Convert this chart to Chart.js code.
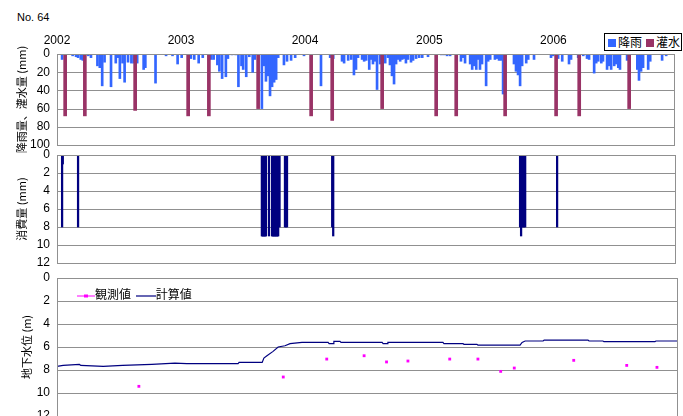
<!DOCTYPE html>
<html lang="ja">
<head>
<meta charset="utf-8">
<script src="https://cdn.jsdelivr.net/npm/chart.js@4.4.1/dist/chart.umd.min.js"></script>
<style>
  html, body { margin: 0; padding: 0; width: 683px; height: 416px; overflow: hidden; background: #fff;
    font-family: "Liberation Sans", "Noto Sans CJK JP", sans-serif; color: #000; }
  .panel { position: absolute; left: 0; width: 683px; }
  #no { position: absolute; left: 17px; top: 11px; font-size: 11px; }
  #legend-top { position: absolute; left: 604px; top: 33px; width: 76px; height: 16px; border: 1px solid #000;
    font-family: "Noto Sans CJK JP", sans-serif; font-size: 12px; line-height: 16px; white-space: nowrap; background: #fff; }
  #legend-top span.sw { display: inline-block; width: 8px; height: 8px; margin: 0 2px 0 3px; }
  #legend-bottom { position: absolute; left: 77px; top: 286px; font-family: "Noto Sans CJK JP", sans-serif;
    font-size: 12px; line-height: 16px; white-space: nowrap; }
  #legend-bottom svg { vertical-align: middle; }
</style>
</head>
<body>
<div id="no">No. 64</div>
<div class="panel" style="top:0;height:160px"><canvas id="rainChart" width="683" height="160"></canvas></div>
<div class="panel" style="top:140px;height:140px"><canvas id="consChart" width="683" height="140"></canvas></div>
<div class="panel" style="top:262px;height:180px"><canvas id="levelChart" width="683" height="180"></canvas></div>
<div id="legend-top"><span class="sw" style="background:#3366ff"></span>降雨<span class="sw" style="background:#993366;margin-left:4px"></span>灌水</div>
<div id="legend-bottom">
  <svg width="18" height="8"><line x1="0" y1="4" x2="18" y2="4" stroke="#ff00ff" stroke-width="1"/><rect x="7" y="2.5" width="4" height="3" fill="#ff00ff"/></svg>観測値
  <svg width="20" height="8" style="margin-left:2px"><line x1="0" y1="4" x2="20" y2="4" stroke="#000080" stroke-width="1.2"/></svg>計算値
</div>
<script>
// x axis = days since 2002-01-01
const yearDays = [0, 365, 730, 1096, 1461];
const yearLabels = ['2002', '2003', '2004', '2005', '2006'];

// rainfall (mm)
const rainDay = [15, 46, 56, 62, 70, 76, 92, 100, 119, 126, 133, 140, 159, 173, 180, 185, 193, 199, 209, 219,
  226, 236, 255, 260, 290, 321, 340, 355, 367, 394, 404, 417, 429, 454, 461, 472, 478, 486, 497, 503,
  515, 526, 534, 543, 548, 557, 566, 576, 582, 603, 609, 615, 621, 627, 633, 639, 645, 651, 668, 677,
  689, 701, 727, 748, 777, 804, 813, 839, 845, 857, 866, 874, 880, 886, 898, 904, 910, 919, 924, 930,
  936, 942, 951, 957, 966, 974, 980, 986, 992, 998, 1004, 1010, 1016, 1022, 1027, 1033, 1042, 1048, 1057, 1066,
  1075, 1092, 1131, 1139, 1148, 1157, 1189, 1195, 1201, 1216, 1222, 1228, 1234, 1239, 1245, 1251, 1263, 1269, 1275, 1289,
  1295, 1301, 1307, 1313, 1345, 1351, 1357, 1363, 1369, 1381, 1387, 1404, 1454, 1460, 1475, 1487, 1507, 1513, 1534, 1549,
  1560, 1566, 1581, 1587, 1593, 1602, 1607, 1619, 1625, 1631, 1640, 1646, 1652, 1657, 1678, 1708, 1713, 1719, 1725, 1740,
  1746, 1781, 1793];
const rainMm = [6, 2, 3, 4, 6, 7, 2, 4, 13, 15, 35, 9, 36, 10, 4, 27, 10, 31, 9, 10,
  10, 10, 17, 15, 32, 2, 2, 11, 4, 5, 6, 10, 4, 6, 6, 12, 19, 27, 25, 5,
  1, 1, 36, 13, 17, 25, 3, 20, 6, 60, 13, 30, 24, 46, 36, 31, 28, 4, 12, 8,
  7, 4, 2, 6, 35, 4, 5, 8, 10, 7, 6, 23, 17, 4, 6, 8, 7, 17, 6, 11,
  8, 39, 11, 6, 10, 4, 12, 24, 33, 11, 6, 8, 6, 5, 10, 6, 9, 7, 5, 4,
  4, 3, 1, 1, 2, 2, 8, 4, 10, 11, 17, 13, 17, 6, 17, 11, 35, 8, 6, 6,
  5, 7, 7, 44, 11, 19, 23, 35, 13, 10, 6, 6, 4, 2, 5, 8, 11, 6, 4, 2,
  5, 6, 21, 10, 8, 10, 8, 17, 13, 17, 13, 11, 15, 17, 7, 17, 29, 19, 15, 17,
  8, 7, 2];

// irrigation (mm)
const irrDay = [24, 82, 230, 386, 447, 592, 748, 810, 957, 1116, 1175, 1319, 1469, 1537, 1684];
const irrMm = [68, 68, 62, 68, 68, 60, 68, 73, 60, 68, 68, 68, 68, 68, 60];

// consumption (mm)
const consDay = [15, 17, 62, 603, 605, 607, 609, 611, 613, 615, 624, 633, 635, 637, 639, 641, 643, 645, 647, 649, 651,
  655, 671, 674, 677, 810, 813, 1363, 1366, 1369, 1372, 1375, 1378, 1472];
const consMm = [8, 1, 8, 9, 9, 9, 9, 9, 9, 9, 9, 9, 9, 9, 9, 9, 9, 9, 9, 9, 9,
  8, 8, 8, 8, 8, 9, 8, 9, 8, 8, 8, 8, 8];

// groundwater level (m)
const obsDay = [241, 666, 794, 904, 970, 1033, 1156, 1239, 1306, 1346, 1521, 1677, 1766];
const obsLevel = [9.42, 8.61, 7.05, 6.76, 7.3, 7.22, 7.05, 7.05, 8.12, 7.83, 7.16, 7.6, 7.77];
const calcDay = [0, 18, 66, 70, 136, 193, 279, 347, 382, 533, 536, 604, 609, 618, 636, 651, 671, 686, 721, 798,
  801, 813, 815, 833, 836, 957, 960, 972, 974, 1136, 1139, 1195, 1198, 1236, 1239, 1363, 1369, 1378, 1431, 1434,
  1563, 1566, 1607, 1610, 1760, 1763, 1830];
const calcLevel = [7.69, 7.6, 7.52, 7.6, 7.69, 7.6, 7.51, 7.4, 7.45, 7.45, 7.34, 7.34, 6.96, 6.76, 6.38, 6.0, 5.89, 5.71, 5.6, 5.6,
  5.71, 5.71, 5.51, 5.51, 5.6, 5.6, 5.71, 5.71, 5.6, 5.6, 5.71, 5.71, 5.77, 5.77, 5.83, 5.83, 5.6, 5.48, 5.48, 5.4,
  5.4, 5.48, 5.48, 5.54, 5.54, 5.48, 5.48];

const GRID = '#909090';
const FONT = "'Liberation Sans', 'Noto Sans CJK JP', sans-serif";
const JFONT = "'Noto Sans CJK JP', sans-serif";

const pts = (xs, ys) => xs.map((x, i) => ({ x: x, y: ys[i] }));

// 1px horizontal grid at every y tick behind the marks, gray frame round the plot area on top
const framePlugin = {
  id: 'frame',
  beforeDatasetsDraw(chart) {
    const a = chart.chartArea;
    const ys = chart.scales.y;
    const ctx = chart.ctx;
    const left = Math.round(a.left), w = Math.round(a.right) - left;
    ctx.save();
    ctx.fillStyle = GRID;
    ys.ticks.forEach(t => {
      ctx.fillRect(left, Math.round(ys.getPixelForValue(t.value)), w, 1);
    });
    ctx.restore();
  },
  afterDraw(chart) {
    const a = chart.chartArea;
    const ctx = chart.ctx;
    const l = Math.round(a.left), t = Math.round(a.top), r = Math.round(a.right), b = Math.round(a.bottom);
    ctx.save();
    ctx.fillStyle = GRID;
    ctx.fillRect(l, t, r - l + 1, 1);
    ctx.fillRect(l, b, r - l + 1, 1);
    ctx.fillRect(l, t, 1, b - t + 1);
    ctx.fillRect(r, t, 1, b - t + 1);
    ctx.restore();
  }
};

// no extra room for edge labels, the layout padding places the plot
const noEdgePad = s => { s.paddingTop = 0; s.paddingBottom = 0; s.paddingLeft = 0; s.paddingRight = 0; };

function yScale(max, step, title, titlePad) {
  return {
    type: 'linear', reverse: true, min: 0, max: max,
    afterFit: s => { s.width = 57; noEdgePad(s); },
    ticks: { stepSize: step, autoSkip: false, padding: 7, color: '#000', font: { family: FONT, size: 12 } },
    grid: { display: false, drawTicks: false },
    border: { display: false },
    title: { display: true, text: title, color: '#000', padding: { top: titlePad, bottom: 0 },
      font: { family: JFONT, size: 11 } }
  };
}

function hiddenX(max) {
  return { type: 'linear', min: 0, max: max, display: false, offset: false };
}

const baseOpts = {
  responsive: false,
  animation: false,
  events: [],
  plugins: { legend: { display: false }, tooltip: { enabled: false } }
};

new Chart(document.getElementById('rainChart'), {
  type: 'bar',
  data: {
    datasets: [
      { label: '灌水', data: pts(irrDay, irrMm), backgroundColor: '#993366', barThickness: 3, grouped: false, order: 0 },
      { label: '降雨', data: pts(rainDay, rainMm), backgroundColor: '#3366ff', barThickness: 2, grouped: false, order: 1 }
    ]
  },
  options: Object.assign({}, baseOpts, {
    layout: { padding: { top: 32, right: 9, bottom: 15, left: 0 } },
    scales: {
      x: {
        type: 'linear', position: 'top', min: 0, max: 1816, offset: false,
        afterFit: s => { s.height = 22; noEdgePad(s); },
        afterBuildTicks: s => { s.ticks = yearDays.map(v => ({ value: v })); },
        ticks: {
          autoSkip: false, maxRotation: 0, padding: 6, color: '#000', font: { family: FONT, size: 12 },
          callback: v => yearLabels[yearDays.indexOf(v)]
        },
        grid: { display: false, drawTicks: false },
        border: { display: false }
      },
      y: yScale(100, 20, '降雨量、灌水量 (mm)', 15)
    }
  }),
  plugins: [framePlugin]
});

new Chart(document.getElementById('consChart'), {
  type: 'bar',
  data: {
    datasets: [
      { label: '消費量', data: pts(consDay, consMm), backgroundColor: '#000080', barThickness: 1.6, grouped: false }
    ]
  },
  options: Object.assign({}, baseOpts, {
    layout: { padding: { top: 15, right: 8, bottom: 17, left: 0 } },
    scales: {
      x: hiddenX(1819),
      y: yScale(12, 2, '消費量 (mm)', 15)
    }
  }),
  plugins: [framePlugin]
});

new Chart(document.getElementById('levelChart'), {
  type: 'line',
  data: {
    datasets: [
      { label: '観測値', data: pts(obsDay, obsLevel), showLine: false, pointStyle: 'rect', pointRadius: 2,
        backgroundColor: '#ff00ff', borderColor: '#ff00ff', borderWidth: 0 },
      { label: '計算値', data: pts(calcDay, calcLevel), borderColor: '#000080', borderWidth: 1.2,
        pointRadius: 0, tension: 0, fill: false }
    ]
  },
  options: Object.assign({}, baseOpts, {
    layout: { padding: { top: 16, right: 6, bottom: 26, left: 0 } },
    scales: {
      x: hiddenX(1825),
      y: yScale(12, 2, '地下水位 (m)', 20)
    }
  }),
  plugins: [framePlugin]
});
</script>
</body>
</html>
